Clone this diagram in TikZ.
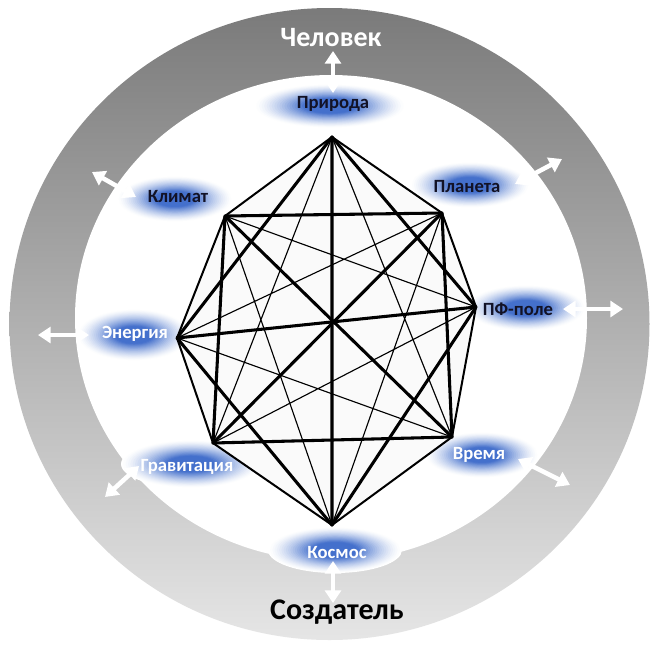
\documentclass[tikz,border=0pt]{standalone}
\usepackage{fontspec}
\setmainfont{Carlito}
\usetikzlibrary{arrows.meta}
\definecolor{haloblue}{RGB}{68,112,204}
\definecolor{darktext}{RGB}{18,18,38}
\newcommand\drawhalo[4]{%
  \foreach \i in {0,...,29}{%
    \pgfmathsetmacro\rr{1-\i/30}%
    \pgfmathsetmacro\pp{100*min(1,max(0,(1-\rr)/0.65))^1.4}%
    \fill[haloblue!\pp!white] (#1,#2) ellipse [x radius=\rr*#3, y radius=\rr*#4];
  }%
}
\tikzset{
  thickedge/.style={line width=2.3pt},
  midedge/.style={line width=1.5pt},
  thinedge/.style={line width=0.85pt},
  lbl/.style={font=\bfseries\fontsize{14pt}{16pt}\selectfont, inner sep=0pt},
  darklbl/.style={lbl, text=darktext},
  whitelbl/.style={lbl, text=white},
  biglbl/.style={font=\bfseries\fontsize{21pt}{24pt}\selectfont, inner sep=0pt},
  dblarrow/.style={draw=white, line width=3.4pt, {Triangle[width=12pt,length=9.5pt]}-{Triangle[width=12pt,length=9.5pt]}}
}
\begin{document}
\begin{tikzpicture}[x=0.75pt,y=-0.75pt, line join=round, line cap=round]
\useasboundingbox (0,0) rectangle (654,644);
\fill[white] (0,0) rectangle (654,644);
% ring
\shade[top color=black!52, middle color=black!32, bottom color=black!10] (329.5,324) ellipse [x radius=320, y radius=316];
\fill[white] (331,318) ellipse [x radius=256, y radius=243];

% halos
\drawhalo{330}{106}{76}{22}
\drawhalo{175}{199}{58}{23}
\drawhalo{470}{185}{60}{23}
\drawhalo{526}{308}{60}{23}
\drawhalo{134}{335}{57}{26}
\drawhalo{191}{464}{70}{24}
\drawhalo{482}{455}{57}{23}
\drawhalo{335}{550}{67}{23}

% vertices
\coordinate (T) at (332,137);
\coordinate (K) at (225,216);
\coordinate (P) at (442,213);
\coordinate (F) at (476,307);
\coordinate (E) at (177,338);
\coordinate (G) at (213,443);
\coordinate (V) at (452,437);
\coordinate (C) at (332,525);

\fill[black!2] (T)--(P)--(F)--(V)--(C)--(G)--(E)--(K)--cycle;

% thin edges
\draw[thinedge] (T)--(G) (T)--(V) (C)--(K) (C)--(P) (E)--(P) (E)--(V) (F)--(K) (F)--(G);
% polygon edges
\draw[midedge] (T)--(P)--(F)--(V)--(C)--(G)--(E)--(K)--cycle;
% thick edges
\draw[thickedge] (T)--(F)--(C)--(E)--cycle;
\draw[thickedge] (T)--(C) (E)--(F);
\draw[thickedge] (K)--(P)--(V)--(G)--cycle;
\draw[thickedge] (K)--(V) (P)--(G);

% labels
\node[biglbl, text=white] (chel) at (331,38) {Человек};
\node[biglbl, text=black, font=\bfseries\fontsize{22.5pt}{26pt}\selectfont] (sozd) at (337,612) {Создатель};
\node[darklbl] (prir) at (333,104) {Природа};
\node[darklbl] (klim) at (178,197) {Климат};
\node[darklbl] (plan) at (467,187) {Планета};
\node[darklbl] (pfpole) at (518,309) {ПФ-поле};
\node[whitelbl] (energ) at (135,334) {Энергия};
\node[whitelbl] (grav) at (187,467) {Гравитация};
\node[whitelbl] (vrem) at (479,455) {Время};
\node[whitelbl] (kosm) at (337,553) {Космос};

% arrows
\coordinate (a1s) at (333,51);  \coordinate (a1e) at (333,93);
\coordinate (a2s) at (92,172);  \coordinate (a2e) at (136,197);
\coordinate (a3s) at (515,184); \coordinate (a3e) at (562,159);
\coordinate (a4s) at (563,309); \coordinate (a4e) at (623,309);
\coordinate (a5s) at (38,335);  \coordinate (a5e) at (89,335);
\coordinate (a6s) at (105,497); \coordinate (a6e) at (139,466);
\coordinate (a7s) at (518,459); \coordinate (a7e) at (570,485);
\coordinate (a8s) at (333,561); \coordinate (a8e) at (333,603);
\draw[dblarrow] (a1s)--(a1e);
\draw[dblarrow] (a2s)--(a2e);
\draw[dblarrow] (a3s)--(a3e);
\draw[dblarrow] (a4s)--(a4e);
\draw[dblarrow] (a5s)--(a5e);
\draw[dblarrow] (a6s)--(a6e);
\draw[dblarrow] (a7s)--(a7e);
\draw[dblarrow] (a8s)--(a8e);
\end{tikzpicture}
\end{document}
